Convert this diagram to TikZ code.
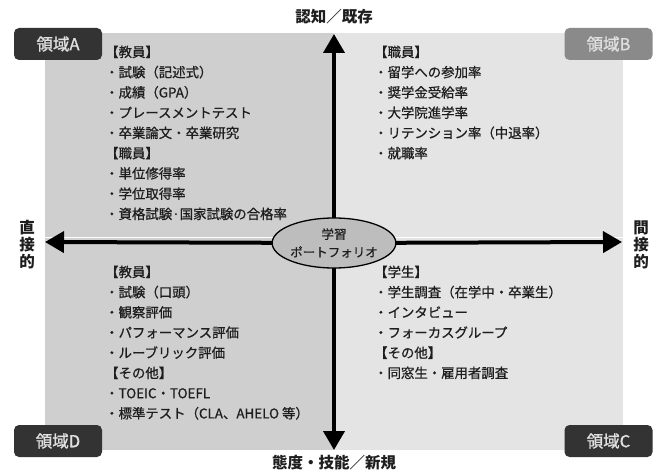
\documentclass[tikz,border=0pt]{standalone}
\usepackage{fontspec}
\setmainfont{Noto Sans CJK JP}
\newfontfamily\medfont[FakeBold=0.7]{Noto Sans CJK JP}
\newfontfamily\lblfont[FakeBold=1.2]{Noto Sans CJK JP}
\usetikzlibrary{arrows.meta,shapes.geometric}
\definecolor{qdark}{HTML}{CFCFCF}
\definecolor{qlight}{HTML}{E4E4E4}
\definecolor{lbldark}{HTML}{333333}
\definecolor{lblgray}{HTML}{8A8A8A}
\definecolor{ellfill}{HTML}{BDBDBD}
\definecolor{txt}{HTML}{1E1E1E}
\tikzset{
  region/.style={rounded corners=5pt, minimum width=88pt, minimum height=32pt, inner sep=0pt,
    text=white!88!black, font=\lblfont\fontsize{16.5}{16.5}\selectfont},
  item/.style={anchor=base west, inner sep=0pt, text=txt, font=\medfont\fontsize{13.4}{13.4}\selectfont},
  axislabel/.style={inner sep=0pt, text=txt, font=\bfseries\fontsize{15.5}{15.5}\selectfont},
  vlabel/.style={inner sep=0pt, text=txt, align=center, font=\bfseries\fontsize{15.5}{17}\selectfont},
  axis/.style={line width=4pt, -{Triangle[length=19pt,width=21pt]}, black},
}
\begin{document}
\begin{tikzpicture}[x=1pt,y=-1pt]
\useasboundingbox (0,0) rectangle (660,473);
% quadrants
\fill[qdark] (45,33) rectangle (334,237);
\fill[qlight] (334,33) rectangle (623,237);
\fill[qdark] (45,238) rectangle (334,450);
\fill[qlight] (334,238) rectangle (623,450);
% axis end points
\coordinate (top) at (334,34);
\coordinate (bot) at (334,450);
\coordinate (lft) at (45,242);
\coordinate (rgt) at (622,242);
\node[minimum width=119pt, minimum height=50pt, inner sep=0pt] (pf0) at (334,243) {};
\draw[axis] (pf0.center) -- (top);
\draw[axis] (pf0.center) -- (bot);
\draw[axis] (pf0.center) -- (lft);
\draw[axis] (pf0.center) -- (rgt);
\node[ellipse, draw=black, line width=1.3pt, fill=ellfill, minimum width=119pt, minimum height=50pt,
  inner sep=0pt, align=center, text=txt, font=\medfont\fontsize{12.5}{18}\selectfont] (pf) at (334,243) {学習\\ポートフォリオ};
% region labels
\node[region, fill=lbldark] (ra) at (58,44) {領域A};
\node[region, fill=lblgray] (rb) at (608.5,44) {領域B};
\node[region, fill=lbldark] (rc) at (608.5,441) {領域C};
\node[region, fill=lbldark] (rd) at (58,441) {領域D};
% axis labels
\node[axislabel] (lt) at (334,17) {認知／既存};
\node[axislabel] (lb) at (334,463) {態度・技能／新規};
\node[vlabel] (ll) at (27,245) {直\\接\\的};
\node[vlabel] (lr) at (641,245) {間\\接\\的};
% quadrant A
\foreach \t [count=\i] in {【教員】,・試験（記述式）,・成績（GPA）,・プレースメントテスト,・卒業論文・卒業研究,【職員】,・単位修得率,・学位取得率,・資格試験·国家試験の合格率}
  \node[item] (a\i) at (105,{57+20.25*(\i-1)}) {\t};
% quadrant B
\foreach \t [count=\i] in {【職員】,・留学への参加率,・奨学金受給率,・大学院進学率,・リテンション率（中退率）,・就職率}
  \node[item] (b\i) at (374,{57+20.25*(\i-1)}) {\t};
% quadrant C
\foreach \t [count=\i] in {【学生】,・学生調査（在学中・卒業生）,・インタビュー,・フォーカスグループ,【その他】,・同窓生・雇用者調査}
  \node[item] (c\i) at (374,{277+20.2*(\i-1)}) {\t};
% quadrant D
\foreach \t [count=\i] in {【教員】,・試験（口頭）,・観察評価,・パフォーマンス評価,・ルーブリック評価,【その他】,・TOEIC・TOEFL,・標準テスト（CLA、AHELO 等）}
  \node[item] (d\i) at (105,{277+20.2*(\i-1)}) {\t};
\end{tikzpicture}
\end{document}
